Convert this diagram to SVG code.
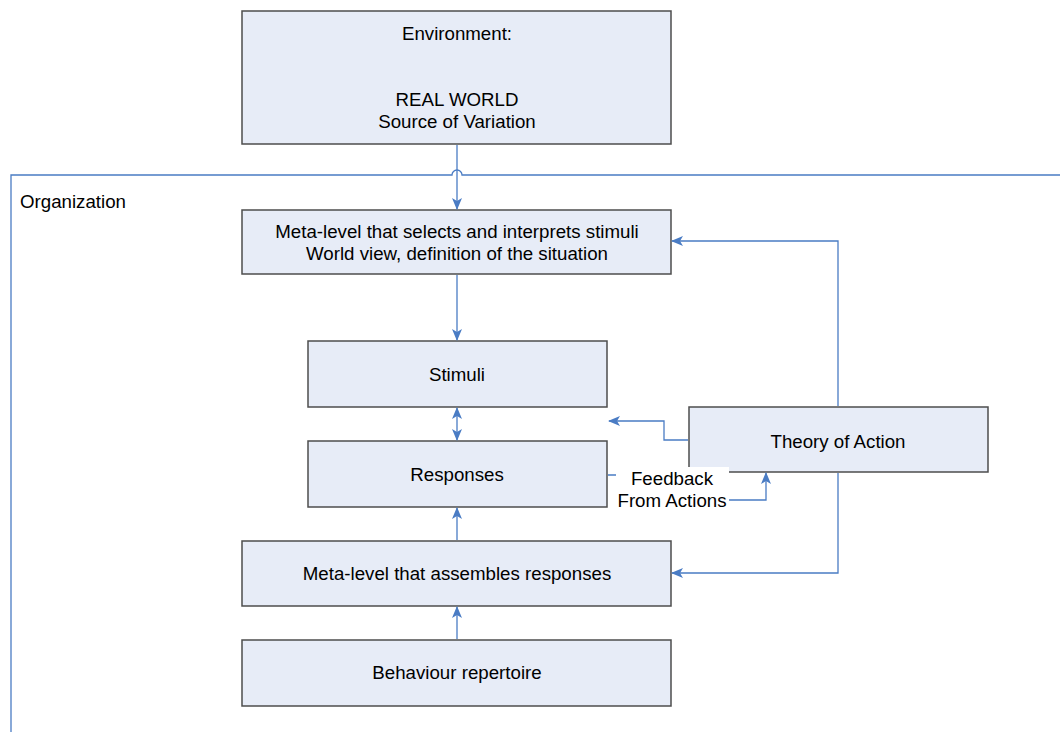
<svg xmlns="http://www.w3.org/2000/svg" width="1060" height="732" viewBox="0 0 1060 732">
<defs>
<style>
.box{fill:#E7ECF7;stroke:#4d4d4d;stroke-width:1.5}
.t{font-family:"Liberation Sans",Arial,sans-serif;font-size:18.7px;fill:#000;text-anchor:middle}
.c{fill:none;stroke:#4A7CC4;stroke-width:1.3}
</style>
<marker id="ah" viewBox="0 0 12 10" refX="11" refY="5" markerWidth="12" markerHeight="10" markerUnits="userSpaceOnUse" orient="auto-start-reverse">
<path d="M0,0 L12,5 L0,10 L3,5 Z" fill="#4A7CC4"/>
</marker>
</defs>
<rect width="1060" height="732" fill="#fff"/>
<g id="organization">
<path class="c" d="M11,732 V175 H452 A5,5 0 0 1 462,175 H1060"/>
<text x="20" y="208" class="t" style="text-anchor:start">Organization</text>
</g>
<g id="environment">
<rect class="box" x="242" y="11" width="429" height="133"/>
<text x="457" y="40" class="t">Environment:</text>
<text x="457" y="106" class="t">REAL WORLD</text>
<text x="457" y="128" class="t">Source of Variation</text>
</g>
<g id="meta-select">
<rect class="box" x="242" y="210" width="429" height="64"/>
<text x="457" y="238" class="t">Meta-level that selects and interprets stimuli</text>
<text x="457" y="260" class="t">World view, definition of the situation</text>
</g>
<g id="stimuli">
<rect class="box" x="308" y="341" width="299" height="66"/>
<text x="457" y="381" class="t">Stimuli</text>
</g>
<g id="responses">
<rect class="box" x="308" y="441" width="299" height="66"/>
<text x="457" y="481" class="t">Responses</text>
</g>
<g id="theory">
<rect class="box" x="689" y="407" width="299" height="65"/>
<text x="838" y="448" class="t">Theory of Action</text>
</g>
<g id="meta-assemble">
<rect class="box" x="242" y="541" width="429" height="65"/>
<text x="457" y="580" class="t">Meta-level that assembles responses</text>
</g>
<g id="behaviour">
<rect class="box" x="242" y="640" width="429" height="66"/>
<text x="457" y="679" class="t">Behaviour repertoire</text>
</g>
<g id="connectors">
<path class="c" d="M457,145 V209" marker-end="url(#ah)"/>
<path class="c" d="M457,275 V340" marker-end="url(#ah)"/>
<path class="c" d="M457,408 V440" marker-start="url(#ah)" marker-end="url(#ah)"/>
<path class="c" d="M457,540 V508" marker-end="url(#ah)"/>
<path class="c" d="M457,639 V607" marker-end="url(#ah)"/>
<path class="c" d="M688,440 H664 V421 H609" marker-end="url(#ah)"/>
<path class="c" d="M838,406 V241 H672" marker-end="url(#ah)"/>
<path class="c" d="M838,473 V573 H672" marker-end="url(#ah)"/>
<path class="c" d="M608,475 H680 V500 H766 V473" marker-end="url(#ah)"/>
<rect x="616" y="467" width="113" height="42" fill="#fff"/>
<text x="672" y="485" class="t">Feedback</text>
<text x="672" y="507" class="t">From Actions</text>
</g>
</svg>
